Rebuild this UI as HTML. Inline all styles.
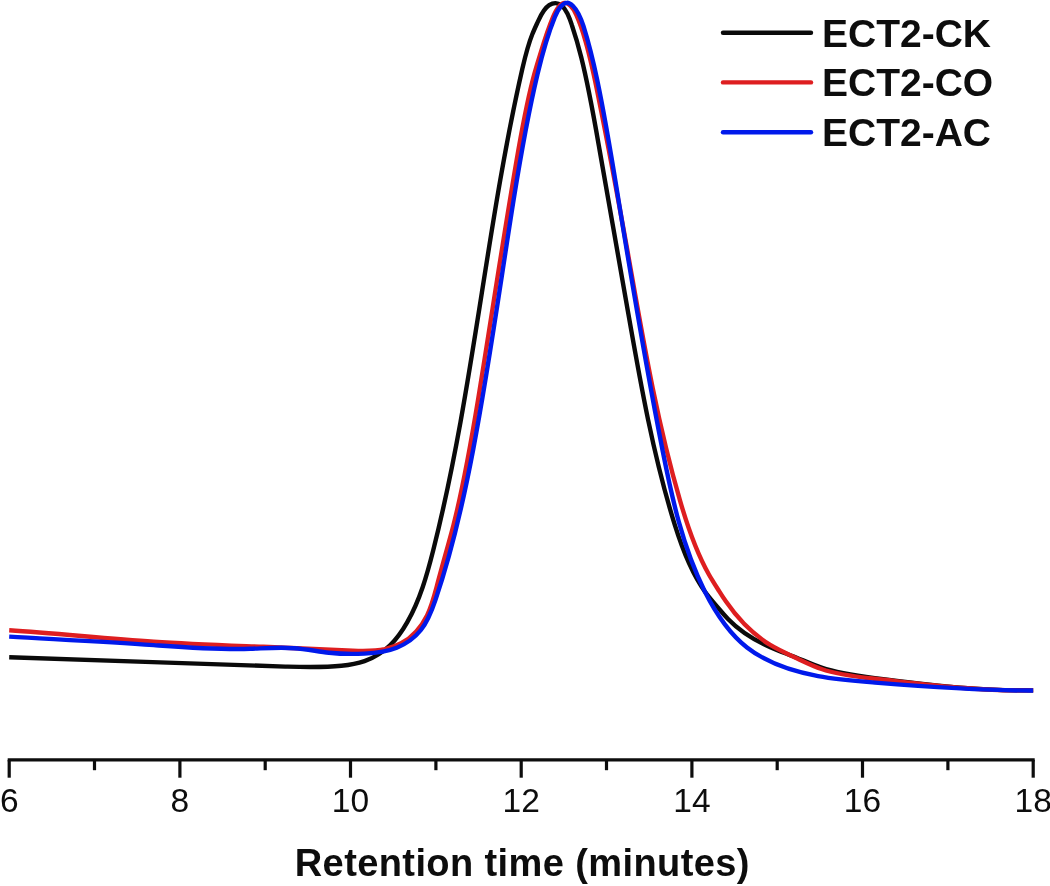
<!DOCTYPE html>
<html>
<head>
<meta charset="utf-8">
<title>Retention time chromatogram</title>
<style>
html, body { margin: 0; padding: 0; background: #ffffff; }
body { width: 1050px; height: 886px; overflow: hidden; font-family: "Liberation Sans", sans-serif; }
svg { display: block; will-change: transform; }
svg text { font-family: "Liberation Sans", sans-serif; fill: #0d0d0d; }
.curve { fill: none; stroke-width: 4.4; stroke-linecap: butt; stroke-linejoin: round; }
.tick { font-size: 33.5px; }
.leg { font-size: 39px; font-weight: bold; }
.title { font-size: 38px; font-weight: bold; letter-spacing: 0.4px; }
</style>
</head>
<body>
<svg width="1050" height="886" viewBox="0 0 1050 886">
  <rect x="0" y="0" width="1050" height="886" fill="#ffffff"/>

  <!-- chromatogram curves -->
  <path class="curve" stroke="#0a0a0a" d="M9.2,657.2 C101.2,660.1 193.3,663.8 285.3,666.6 C304.0,667.1 322.6,667.7 341.4,665.8 C349.2,665.0 357.1,663.7 364.5,661.2 C374.2,657.8 383.0,652.2 390.3,645.0 C397.1,638.4 402.6,630.4 407.3,622.1 C420.1,599.7 427.0,574.9 433.3,550.0 C473.3,391.5 486.0,227.9 522.4,68.6 C525.1,56.9 527.9,45.3 532.3,34.3 C534.0,30.1 535.9,26.0 537.8,21.8 C540.7,15.5 543.5,8.9 549.2,5.2 C551.0,4.0 553.2,3.1 555.4,3.1 C557.6,3.1 559.8,4.1 561.6,5.5 C564.2,7.6 566.0,10.7 567.5,13.7 C569.3,17.5 570.7,21.3 571.9,25.2 C575.4,35.6 578.5,46.3 581.2,57.1 C588.9,87.7 594.2,118.9 599.6,150.0 C608.3,200.0 617.2,249.9 625.9,299.9 C639.2,375.6 651.9,451.5 674.8,524.9 C682.1,548.4 690.5,571.6 705.0,591.7 C709.7,598.1 715.0,604.2 720.2,610.2 C722.7,613.2 725.3,616.1 728.0,619.0 C739.6,631.0 754.7,640.4 770.3,647.2 C778.6,650.9 787.1,653.8 795.5,657.2 C804.1,660.7 812.7,664.7 821.5,667.7 C838.7,673.6 856.9,675.9 875.0,678.2 C927.6,684.9 980.1,691.3 1033.2,690.2"/>
  <path class="curve" stroke="#de1e20" d="M9.2,630.3 C57.4,633.4 105.6,638.5 153.8,641.6 C190.3,644.0 226.9,645.3 263.4,646.8 C293.3,648.1 323.1,649.6 352.9,650.7 C363.6,651.1 374.3,651.4 384.9,649.2 C390.5,647.9 396.1,646.0 401.1,643.3 C412.7,637.0 421.5,626.7 427.2,615.1 C431.8,605.6 434.4,595.3 437.1,585.1 C442.4,564.9 448.3,545.0 453.5,525.0 C463.9,483.9 471.1,442.0 478.0,400.1 C491.6,316.6 503.9,233.1 518.4,149.9 C522.9,124.5 527.5,99.1 534.3,74.2 C536.4,66.6 538.7,59.0 541.1,51.4 C544.6,39.8 548.3,28.3 553.0,17.0 C554.5,13.5 556.1,9.9 558.7,6.8 C560.2,4.8 562.2,3.1 564.2,2.9 C566.3,2.7 568.5,4.0 570.3,5.6 C573.1,8.1 574.8,11.5 576.3,14.8 C580.2,23.4 583.0,32.2 585.5,41.1 C591.0,60.4 595.1,80.2 599.0,100.0 C609.1,150.0 618.3,199.9 627.3,250.0 C642.2,333.9 656.0,418.1 679.9,500.1 C687.3,525.8 695.8,551.3 708.9,574.5 C710.0,576.5 711.2,578.5 712.4,580.4 C714.6,584.1 717.0,587.8 719.3,591.4 C721.5,594.9 723.7,598.3 726.0,601.6 C737.7,618.6 752.6,634.2 770.2,644.9 C778.3,649.8 786.9,653.6 795.5,657.7 C804.1,661.7 812.6,665.9 821.5,669.0 C838.6,675.0 856.8,676.8 875.0,678.8 C927.8,684.6 980.0,691.6 1033.2,690.2"/>
  <path class="curve" stroke="#0019eb" d="M9.2,636.6 C57.4,639.4 105.6,641.8 153.8,645.1 C185.9,647.4 218.0,649.9 250.2,648.8 C264.8,648.3 279.4,647.1 294.0,648.2 C305.7,649.0 317.4,651.4 329.1,652.7 C340.8,654.0 352.5,654.1 364.3,653.6 C375.3,653.0 386.4,651.9 396.7,647.7 C406.0,644.0 414.7,637.8 420.9,630.0 C427.8,621.3 431.8,610.7 435.4,600.0 C452.2,550.9 463.5,500.6 473.1,450.0 C488.9,367.1 500.3,283.3 513.6,200.0 C520.4,157.8 527.6,115.8 537.5,74.3 C542.1,54.8 547.3,35.5 554.8,17.1 C556.3,13.5 557.8,10.0 560.6,6.8 C562.4,4.7 564.8,2.7 567.1,2.7 C569.1,2.6 571.1,4.2 572.8,5.8 C578.5,11.5 581.1,18.8 583.5,26.2 C589.1,44.0 593.4,61.9 597.2,80.0 C605.6,119.7 612.0,159.9 618.5,200.0 C632.1,283.6 646.1,366.9 662.5,450.0 C672.1,498.5 682.5,546.9 704.8,591.4 C715.5,612.7 728.8,633.1 747.0,647.4 C766.9,663.0 792.6,671.4 818.1,676.1 C837.1,679.7 856.0,681.1 875.0,682.6 C927.4,686.7 980.7,690.8 1033.1,690.5"/>

  <!-- x axis -->
  <g stroke="#0d0d0d" stroke-width="3.2" stroke-linecap="butt" fill="none">
    <line x1="7.7" y1="759.9" x2="1034.7" y2="759.9"/>
    <line x1="9.2" y1="759.9" x2="9.2" y2="777.7"/>
    <line x1="94.5" y1="759.9" x2="94.5" y2="770.2"/>
    <line x1="179.9" y1="759.9" x2="179.9" y2="777.7"/>
    <line x1="265.2" y1="759.9" x2="265.2" y2="770.2"/>
    <line x1="350.5" y1="759.9" x2="350.5" y2="777.7"/>
    <line x1="435.9" y1="759.9" x2="435.9" y2="770.2"/>
    <line x1="521.2" y1="759.9" x2="521.2" y2="777.7"/>
    <line x1="606.5" y1="759.9" x2="606.5" y2="770.2"/>
    <line x1="691.9" y1="759.9" x2="691.9" y2="777.7"/>
    <line x1="777.2" y1="759.9" x2="777.2" y2="770.2"/>
    <line x1="862.5" y1="759.9" x2="862.5" y2="777.7"/>
    <line x1="947.9" y1="759.9" x2="947.9" y2="770.2"/>
    <line x1="1033.2" y1="759.9" x2="1033.2" y2="777.7"/>
  </g>
  <g class="tick">
    <text x="9.2" y="811.8" text-anchor="middle">6</text>
    <text x="179.9" y="811.8" text-anchor="middle">8</text>
    <text x="350.5" y="811.8" text-anchor="middle">10</text>
    <text x="521.2" y="811.8" text-anchor="middle">12</text>
    <text x="691.9" y="811.8" text-anchor="middle">14</text>
    <text x="862.5" y="811.8" text-anchor="middle">16</text>
    <text x="1033.2" y="811.8" text-anchor="middle">18</text>
  </g>
  <text class="title" x="522.3" y="875.7" text-anchor="middle">Retention time (minutes)</text>

  <!-- legend -->
  <g stroke-width="4.4" stroke-linecap="round">
    <line x1="723" y1="32.8" x2="811" y2="32.8" stroke="#0a0a0a"/>
    <line x1="723" y1="82.4" x2="811" y2="82.4" stroke="#de1e20"/>
    <line x1="723" y1="132.2" x2="811" y2="132.2" stroke="#0019eb"/>
  </g>
  <g class="leg">
    <text x="822" y="46.7">ECT2-CK</text>
    <text x="822" y="96.1">ECT2-CO</text>
    <text x="822" y="145.6">ECT2-AC</text>
  </g>
</svg>
</body>
</html>
